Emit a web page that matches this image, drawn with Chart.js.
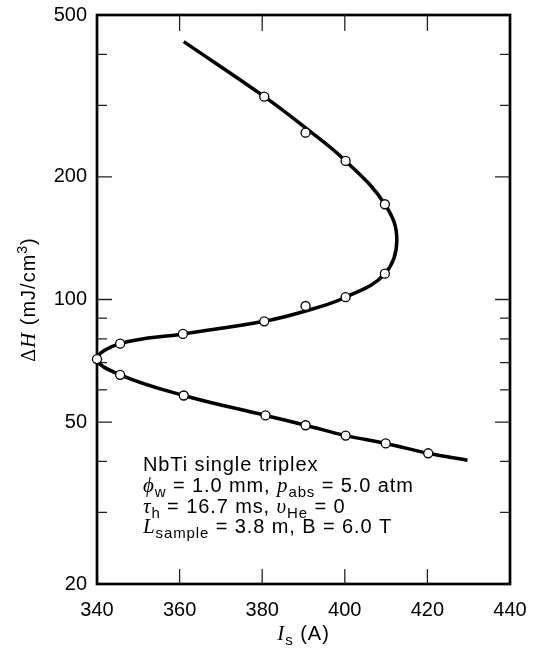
<!DOCTYPE html>
<html>
<head>
<meta charset="utf-8">
<script src="https://cdn.jsdelivr.net/npm/chart.js@4.4.1/dist/chart.umd.min.js"></script>
<style>
  html, body { margin: 0; padding: 0; background: #fff; }
  #wrap { width: 536px; height: 653px; }
</style>
</head>
<body>
<div id="wrap"><canvas id="chart" width="536" height="653"></canvas></div>
<script>
// tick values
const xTicks = [340, 360, 380, 400, 420, 440];
const yTicks = [20, 50, 100, 200, 500];
const yMinor = [30, 40, 60, 70, 80, 90, 300, 400];

// measured points (open circles)
const markerI = [380.5, 390.5, 400.2, 409.7, 409.7, 400.2, 390.5, 380.5, 360.8, 345.6, 340, 345.6, 361, 380.8, 390.5, 400.2, 409.9, 420.2];
const markerH = [315, 257, 219, 171.4, 115.7, 101.3, 96.4, 88.4, 82.3, 77.9, 71.4, 65.3, 58.1, 51.9, 49.1, 46.3, 44.3, 41.9];

// fitted curve (in path order)
const curveI = [361, 380.5, 390.5, 400.2, 409.7, 412.6, 409.7, 400.2, 390.5, 380.5, 360.8, 345.6, 340, 345.6, 361, 380.8, 390.5, 400.2, 409.9, 420.2, 429.7];
const curveH = [430, 315, 264, 219, 171.4, 140, 115.7, 101.3, 93.7, 88.4, 82.3, 77.9, 71.4, 65.3, 58.1, 51.9, 49.1, 46.3, 44.3, 41.9, 40.3];

const SANS = '"Liberation Sans", Arial, sans-serif';
const SERIF = '"Liberation Serif", "Times New Roman", serif';

function drawRuns(ctx, x, y, parts) {
  parts.forEach(p => {
    ctx.font = p.f;
    ctx.fillText(p.t, x, y + (p.dy || 0));
    x += ctx.measureText(p.t).width;
  });
  return x;
}
function runsWidth(ctx, parts) {
  let w = 0;
  parts.forEach(p => { ctx.font = p.f; w += ctx.measureText(p.t).width; });
  return w;
}

const framePlugin = {
  id: 'frame',
  beforeDatasetsDraw(chart) {
    const { ctx, chartArea: a, scales } = chart;
    ctx.save();
    ctx.strokeStyle = '#000';
    ctx.lineWidth = 2.7;
    ctx.strokeRect(a.left, a.top, a.right - a.left, a.bottom - a.top);
    ctx.lineWidth = 1.3;
    ctx.strokeStyle = '#222';
    ctx.beginPath();
    xTicks.slice(1, -1).forEach(v => {
      const px = scales.x.getPixelForValue(v);
      ctx.moveTo(px, a.bottom); ctx.lineTo(px, a.bottom - 15);
      ctx.moveTo(px, a.top); ctx.lineTo(px, a.top + 16);
    });
    yTicks.slice(1, -1).forEach(v => {
      const py = scales.y.getPixelForValue(v);
      ctx.moveTo(a.left, py); ctx.lineTo(a.left + 15, py);
      ctx.moveTo(a.right, py); ctx.lineTo(a.right - 15, py);
    });
    yMinor.forEach(v => {
      const py = scales.y.getPixelForValue(v);
      ctx.moveTo(a.left, py); ctx.lineTo(a.left + 10, py);
      ctx.moveTo(a.right, py); ctx.lineTo(a.right - 10, py);
    });
    ctx.stroke();
    ctx.restore();
  },
  afterDraw(chart) {
    const { ctx, chartArea: a } = chart;
    ctx.save();
    ctx.fillStyle = '#000';
    ctx.textBaseline = 'alphabetic';
    ctx.textAlign = 'left';
    if ('letterSpacing' in ctx) ctx.letterSpacing = '0.9px';
    const big = '20px ' + SANS, sub = '15px ' + SANS, it = 'italic 21px ' + SERIF;

    // annotation
    const x0 = 143;
    drawRuns(ctx, x0, 471, [{ t: 'NbTi single triplex', f: big }]);
    drawRuns(ctx, x0, 492, [
      { t: '\u03D5', f: it }, { t: 'w', f: sub, dy: 5 }, { t: ' = 1.0 mm, ', f: big },
      { t: 'p', f: it }, { t: 'abs', f: sub, dy: 5 }, { t: ' = 5.0 atm', f: big }]);
    drawRuns(ctx, x0, 513, [
      { t: '\u03C4', f: it }, { t: 'h', f: sub, dy: 5 }, { t: ' = 16.7 ms, ', f: big },
      { t: '\u03C5', f: it }, { t: 'He', f: sub, dy: 5 }, { t: ' = 0', f: big }]);
    drawRuns(ctx, x0, 533, [
      { t: 'L', f: it }, { t: 'sample', f: sub, dy: 5 }, { t: ' = 3.8 m, B = 6.0 T', f: big }]);

    // x title
    if ('letterSpacing' in ctx) ctx.letterSpacing = '1px';
    const xt = [{ t: 'I', f: 'italic 21px ' + SERIF }, { t: 's', f: '15px ' + SANS, dy: 5 }, { t: ' (A)', f: '20px ' + SANS }];
    const cx = (a.left + a.right) / 2;
    drawRuns(ctx, cx - runsWidth(ctx, xt) / 2, 640, xt);

    // y title (rotated)
    const yt = [{ t: '\u0394', f: '20px ' + SERIF }, { t: 'H', f: 'italic 21px ' + SERIF },
      { t: ' (mJ/cm', f: '20px ' + SANS }, { t: '3', f: '14px ' + SANS, dy: -8 }, { t: ')', f: '20px ' + SANS }];
    const w = runsWidth(ctx, yt);
    ctx.translate(35, (a.top + a.bottom) / 2 + w / 2);
    ctx.rotate(-Math.PI / 2);
    drawRuns(ctx, 0, 0, yt);
    ctx.restore();
  }
};

const markers = markerI.map((v, i) => ({ x: v, y: markerH[i] }));
const curve = curveI.map((v, i) => ({ x: v, y: curveH[i] }));

new Chart(document.getElementById('chart'), {
  type: 'scatter',
  data: {
    datasets: [
      {
        data: markers,
        showLine: false,
        pointRadius: 4.5,
        pointBackgroundColor: '#fff',
        pointBorderColor: '#000',
        pointBorderWidth: 1.3,
        clip: false
      },
      {
        data: curve,
        showLine: true,
        borderColor: '#000',
        borderWidth: 3.5,
        pointRadius: 0,
        tension: 0.4,
        fill: false,
        clip: false
      }
    ]
  },
  options: {
    responsive: false,
    animation: false,
    layout: { padding: { left: 0, top: 15, right: 26, bottom: 0 } },
    plugins: { legend: { display: false }, tooltip: { enabled: false } },
    scales: {
      x: {
        type: 'linear', min: 340, max: 440,
        afterBuildTicks: s => { s.ticks = xTicks.map(v => ({ value: v })); },
        afterFit: s => { s.height = 69; s.paddingLeft = 0; s.paddingRight = 0; },
        grid: { display: false, drawTicks: false },
        border: { display: false },
        ticks: { color: '#000', font: { family: SANS, size: 20 }, padding: 14, maxRotation: 0, callback: v => String(v) }
      },
      y: {
        type: 'logarithmic', min: 20, max: 500,
        afterBuildTicks: s => { s.ticks = yTicks.map(v => ({ value: v })); },
        afterFit: s => { s.width = 97; s.paddingTop = 0; s.paddingBottom = 0; },
        grid: { display: false, drawTicks: false },
        border: { display: false },
        ticks: { color: '#000', font: { family: SANS, size: 20 }, padding: 10, callback: v => String(v) }
      }
    }
  },
  plugins: [framePlugin]
});
</script>
</body>
</html>
